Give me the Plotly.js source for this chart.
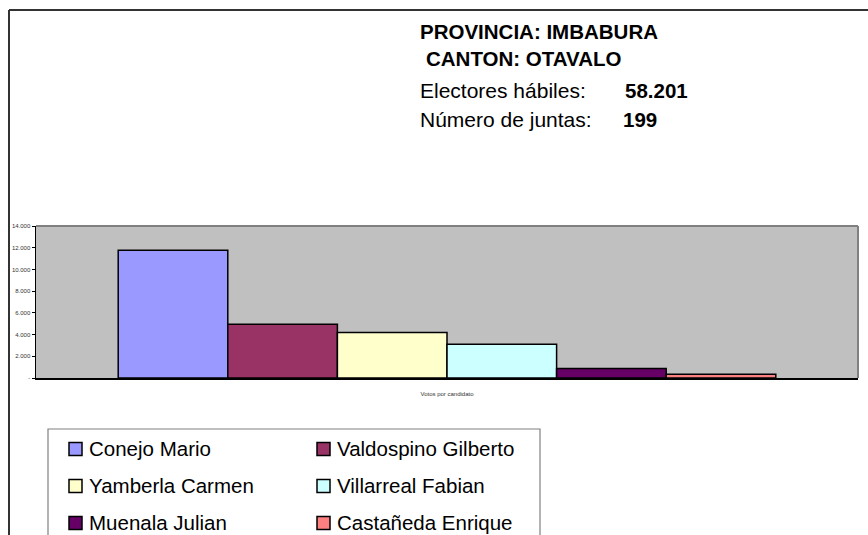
<!DOCTYPE html>
<html>
<head>
<meta charset="utf-8">
<script src="https://cdn.plot.ly/plotly-3.0.1.min.js"></script>
<style>html,body{margin:0;padding:0;background:#fff;}#chart{width:868px;height:535px;}</style>
</head>
<body>
<div id="chart"></div>
<script>
// ---- data ----
var category = ["Votos por candidato"];
var candidates = ["Conejo Mario", "Valdospino Gilberto", "Yamberla Carmen", "Villarreal Fabian", "Muenala Julian", "Castañeda Enrique"];
var votes = [11760, 4940, 4180, 3100, 870, 340];
var colors = ["#9999FF", "#993366", "#FFFFCC", "#CCFFFF", "#660066", "#FF8080"];
var yTickVals = [0, 2000, 4000, 6000, 8000, 10000, 12000, 14000];
var yTickText = ["-", "2.000", "4.000", "6.000", "8.000", "10.000", "12.000", "14.000"];
var headerLines = ["PROVINCIA: IMBABURA", "CANTON: OTAVALO", "Electores hábiles:", "Número de juntas:"];
var headerValues = ["58.201", "199"];

// ---- layout helpers (pixel -> paper) ----
var W = 868, H = 535;
var M = {l: 36, r: 10, t: 226, b: 157};
var PW = W - M.l - M.r, PH = H - M.t - M.b;
function px(x) { return (x - M.l) / PW; }
function py(y) { return (H - M.b - y) / PH; }
var FONT = "Liberation Sans, Arial, sans-serif";

var traces = candidates.map(function (name, i) {
  return {
    type: "bar",
    name: name,
    x: category,
    y: [votes[i]],
    marker: {color: colors[i], line: {color: "#000", width: 1.5}},
    hoverinfo: "name+y"
  };
});

var annotations = [];
var shapes = [];

// header text
var hdr = [
  {t: headerLines[0], x: 418, y: 31, b: true, s: 20.5},
  {t: headerLines[1], x: 424, y: 59, b: true, s: 20.5},
  {t: headerLines[2], x: 418, y: 90, b: false, s: 21},
  {t: headerLines[3], x: 418, y: 120, b: false, s: 21},
  {t: headerValues[0], x: 623, y: 90, b: true, s: 20.5},
  {t: headerValues[1], x: 621, y: 120, b: true, s: 20.5}
];
hdr.forEach(function (h) {
  annotations.push({
    text: h.b ? "<b>" + h.t + "</b>" : h.t,
    xref: "paper", yref: "paper", x: px(h.x), y: py(h.y),
    xanchor: "left", yanchor: "middle", showarrow: false,
    font: {family: FONT, size: h.s, color: "#000"}
  });
});

// legend (manual, 2 columns)
var legCols = [69, 317], legRows = [449, 486, 523];
candidates.forEach(function (name, i) {
  var cx = legCols[i % 2], cy = legRows[Math.floor(i / 2)];
  shapes.push({
    type: "rect", xref: "paper", yref: "paper",
    x0: px(cx), x1: px(cx + 13), y0: py(cy - 6.5), y1: py(cy + 6.5),
    fillcolor: colors[i], line: {color: "#000", width: 1.5}
  });
  annotations.push({
    text: name, xref: "paper", yref: "paper",
    x: px(cx + 18), y: py(cy - 1), xanchor: "left", yanchor: "middle",
    showarrow: false, font: {family: FONT, size: 20.5, color: "#000"}
  });
});
// legend box
shapes.push({type: "rect", xref: "paper", yref: "paper",
  x0: px(48), x1: px(540), y0: py(545), y1: py(429),
  line: {color: "#808080", width: 1.2}, fillcolor: "rgba(0,0,0,0)"});

// outer chart frame (top and left)
shapes.push({type: "line", xref: "paper", yref: "paper",
  x0: px(9), x1: px(870), y0: py(10), y1: py(10), line: {color: "#333", width: 2}});
shapes.push({type: "line", xref: "paper", yref: "paper",
  x0: px(9), x1: px(9), y0: py(10), y1: py(540), line: {color: "#333", width: 2}});

// plot area top/right border (gray)
shapes.push({type: "line", xref: "paper", yref: "paper", layer: "above",
  x0: 0, x1: 1, y0: 1, y1: 1, line: {color: "#808080", width: 2}});
shapes.push({type: "line", xref: "paper", yref: "paper", layer: "above",
  x0: 1, x1: 1, y0: 0, y1: 1, line: {color: "#808080", width: 2}});

var layout = {
  width: W, height: H,
  margin: M,
  paper_bgcolor: "#fff",
  plot_bgcolor: "#C0C0C0",
  showlegend: false,
  barmode: "group",
  bargap: 0.2,
  bargroupgap: 0,
  font: {family: FONT, color: "#000"},
  xaxis: {
    type: "category", range: [-0.5, 0.5],
    showline: true, linecolor: "#000", linewidth: 1.5,
    ticks: "", showgrid: false, zeroline: false,
    tickfont: {family: FONT, size: 6, color: "#333"},
    ticklabelstandoff: 9,
    fixedrange: true
  },
  yaxis: {
    range: [0, 14000],
    tickvals: yTickVals, ticktext: yTickText,
    ticks: "outside", ticklen: 3, tickcolor: "#000", tickwidth: 1,
    showline: true, linecolor: "#000", linewidth: 1.5,
    showgrid: false, zeroline: false,
    tickfont: {family: FONT, size: 6, color: "#333"},
    fixedrange: true
  },
  annotations: annotations,
  shapes: shapes
};

Plotly.newPlot("chart", traces, layout, {displayModeBar: false, staticPlot: true});
</script>
</body>
</html>
